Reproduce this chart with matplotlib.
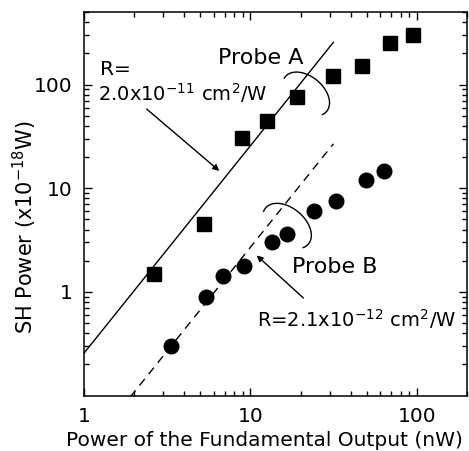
import numpy as np
import matplotlib.pyplot as plt

# data
probe_a_x = [2.63, 5.26, 8.84, 12.5, 19.1, 31.4, 46.5, 68.8, 95.0]
probe_a_y = [1.50, 4.48, 30.3, 44.8, 75.0, 120.0, 150.0, 253.0, 298.0]
probe_b_x = [3.31, 5.40, 6.87, 9.14, 13.4, 16.5, 24.2, 32.6, 49.4, 63.4]
probe_b_y = [0.30, 0.895, 1.43, 1.78, 3.03, 3.59, 5.97, 7.5, 11.9, 14.8]
# quadratic fits  y = c * x^2
fit_a_c = 0.257
fit_b_c = 0.027
fit_a_x = [1.0, 31.5]
fit_b_x = [1.9, 31.5]

plt.rcParams['font.family'] = ['DejaVu Sans']
plt.rcParams['mathtext.default'] = 'regular'
plt.rcParams['font.size'] = 15

fig = plt.figure(figsize=(4.69, 4.51), dpi=100)
ax = fig.add_axes([0.1791, 0.1226, 0.8166, 0.8508])

# fit lines
xa = np.array(fit_a_x)
ax.plot(xa, fit_a_c * xa**2, color='black', lw=1.0)
xb = np.array(fit_b_x)
ax.plot(xb, fit_b_c * xb**2, color='black', lw=1.0, dashes=(6, 4.5))

# measured points
ax.plot(probe_a_x, probe_a_y, 's', color='black', ms=10, mec='black')
ax.plot(probe_b_x, probe_b_y, 'o', color='black', ms=10.5, mec='black')

ax.set_xscale('log')
ax.set_yscale('log')
ax.set_xlim(1, 200)
ax.set_ylim(0.1, 500)
ax.set_xticks([1, 10, 100])
ax.set_xticklabels(['1', '10', '100'])
ax.set_yticks([1, 10, 100])
ax.set_yticklabels(['1', '10', '100'])

ax.tick_params(which='both', direction='in', top=True, right=True, width=1.0,
               labelsize=14.5)
ax.tick_params(which='major', length=6, pad=8)
ax.tick_params(which='minor', length=3.5)
ax.tick_params(axis='x', which='major', pad=8)
for s in ax.spines.values():
    s.set_linewidth(1.1)

ax.set_xlabel('Power of the Fundamental Output (nW)', fontsize=14.5)
ax.set_ylabel('SH Power (x10$^{-18}$W)', fontsize=15)
ax.xaxis.set_label_coords(0.47, -0.092)
ax.yaxis.set_label_coords(-0.118, 0.44)

# annotations
ax.text(11.56, 158, 'Probe A', ha='center', va='baseline', fontsize=16)
ax.text(1.247, 124, 'R=', ha='left', va='baseline', fontsize=14.5)
ax.text(1.21, 69.7, '2.0x10$^{-11}$ cm$^{2}$/W', ha='left', va='baseline',
        fontsize=14)
ax.text(32.2, 1.52, 'Probe B', ha='center', va='baseline', fontsize=16)
ax.text(10.99, 0.46, 'R=2.1x10$^{-12}$ cm$^{2}$/W', ha='left', va='baseline',
        fontsize=14)

arrow = dict(arrowstyle='-|>', lw=1.0, color='black', mutation_scale=9,
             shrinkA=0, shrinkB=0)
ax.annotate('', xy=(6.5, 14.7), xytext=(2.38, 58), arrowprops=arrow)
ax.annotate('', xy=(10.9, 2.25), xytext=(20.8, 0.875), arrowprops=arrow)

# curved brackets around the points (drawn in pixel space of the axes)
def bracket(cx, cy, a, b, t0, t1):
    t = np.radians(np.linspace(t0, t1, 80))
    ang = np.radians(40)
    u = a * np.cos(t)
    v = b * np.sin(t)
    px = cx + u * np.cos(ang) - v * np.sin(ang)
    py = cy + u * np.sin(ang) + v * np.cos(ang)
    ax.plot((px - 84) / 383.0, (395.7 - py) / 383.7, color='black', lw=1.0,
            transform=ax.transAxes, clip_on=False)

bracket(306, 94, 27, 17.5, 174, 377)
bracket(287, 226, 28, 18, 168, 380)

plt.savefig('out.png', dpi=100)
